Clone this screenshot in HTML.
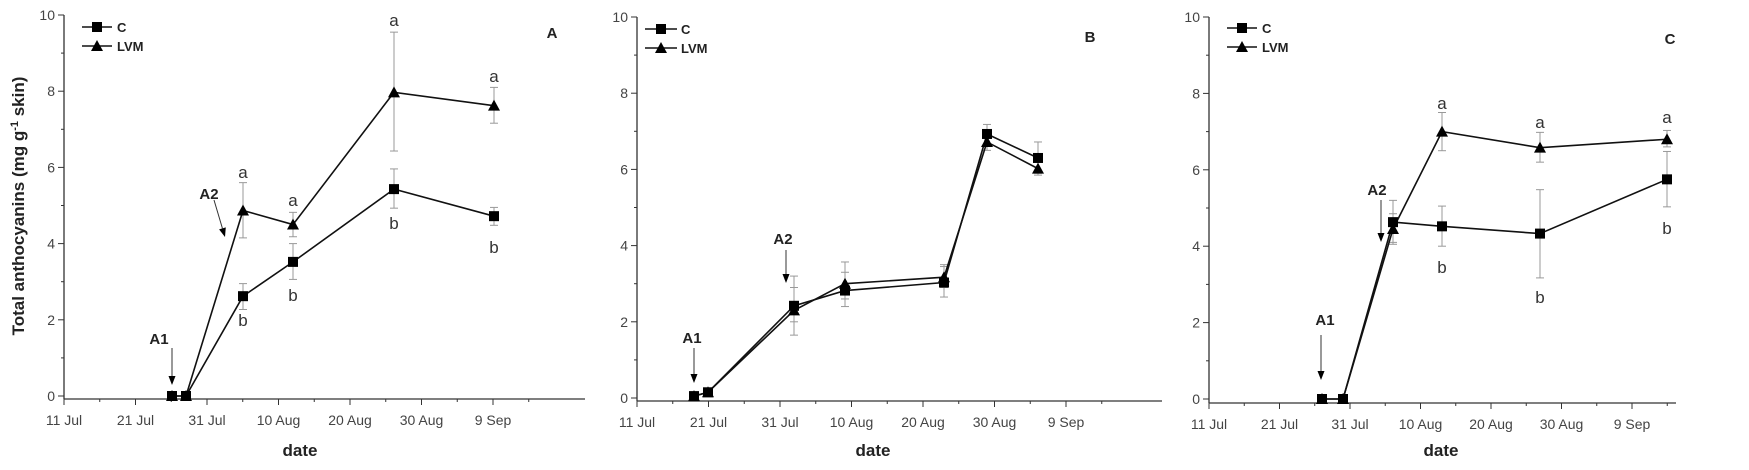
<!DOCTYPE html><html><head><style>body{margin:0;background:#fff}svg{display:block}text{font-family:"Liberation Sans",Arial,sans-serif}</style></head><body>
<svg id="s" width="1749" height="470" xmlns="http://www.w3.org/2000/svg"></svg>
<script>
const s=document.getElementById('s');let h='';
const P=[
{ax:64,y10:15,y0:396,xa:399,xend:585,t0:64,dt:7.15,lab:'A',lx:552,ly:38,leg:[82,112,97,27,46,117],
 C:[[172,0],[186,0],[243,2.62,2.27,2.95],[293,3.52,3.06,4.0],[394,5.43,4.93,5.96],[494,4.72,4.48,4.95]],
 L:[[172,0],[186,0],[243,4.87,4.15,5.6],[293,4.5,4.18,4.82],[394,7.97,6.43,9.55],[494,7.62,7.16,8.1]],
 let:[[243,178,'a'],[243,326,'b'],[293,206,'a'],[293,301,'b'],[394,26,'a'],[394,229,'b'],[494,82,'a'],[494,253,'b']],
 a1:[159,344,172,348,385],a2:[209,199,214,200,225,237],dx:300},
{ax:637,y10:17,y0:398,xa:401,xend:1162,t0:637,dt:7.15,lab:'B',lx:1090,ly:42,leg:[645,677,661,29,48,681],
 C:[[694,0.05],[708,0.15],[794,2.42,1.65,3.2],[845,2.82,2.4,3.3],[944,3.03,2.65,3.45],[987,6.93,6.6,7.18],[1038,6.3,5.9,6.72]],
 L:[[694,0.05],[708,0.15],[794,2.3,2.0,2.9],[845,3.0,2.6,3.57],[944,3.17,2.9,3.5],[987,6.72,6.5,7.0],[1038,6.02,5.85,6.2]],
 let:[],a1:[692,343,694,348,383],a2:[783,244,786,250,786,283],dx:873},
{ax:1209,y10:17,y0:399,xa:403,xend:1676,t0:1209,dt:7.05,lab:'C',lx:1670,ly:44,leg:[1227,1257,1242,28,47,1262],
 C:[[1322,0],[1343,0],[1393,4.63,4.1,5.2],[1442,4.52,4.0,5.05],[1540,4.33,3.17,5.48],[1667,5.75,5.03,6.48]],
 L:[[1322,0],[1343,0],[1393,4.45,4.05,4.85],[1442,7.0,6.5,7.5],[1540,6.58,6.2,6.98],[1667,6.8,6.6,7.03]],
 let:[[1442,109,'a'],[1442,273,'b'],[1540,128,'a'],[1540,303,'b'],[1667,123,'a'],[1667,234,'b']],
 a1:[1325,325,1321,335,380],a2:[1377,195,1381,200,1381,242],dx:1441}];
const months=['11 Jul','21 Jul','31 Jul','10 Aug','20 Aug','30 Aug','9 Sep'];
function tri(x,y){return `<path d="M${x} ${y-6}L${x+6} ${y+5}L${x-6} ${y+5}Z" fill="#000"/>`}
function sq(x,y){return `<rect x="${x-5}" y="${y-5}" width="10" height="10" fill="#000"/>`}
function arrow(x1,y1,x2,y2){const a=Math.atan2(y2-y1,x2-x1),l=9,w=3.5;const bx=x2-l*Math.cos(a),by=y2-l*Math.sin(a);
 return `<line x1="${x1}" y1="${y1}" x2="${bx}" y2="${by}" stroke="#333" stroke-width="1"/><path d="M${x2} ${y2}L${bx-w*Math.sin(a)} ${by+w*Math.cos(a)}L${bx+w*Math.sin(a)} ${by-w*Math.cos(a)}Z" fill="#000"/>`}
for(const p of P){
 const Y=v=>p.y0-(p.y0-p.y10)*v/10;
 h+=`<line x1="${p.ax}" y1="${p.y10}" x2="${p.ax}" y2="${p.xa}" stroke="#333" stroke-width="1.3"/>`;
 h+=`<line x1="${p.ax}" y1="${p.xa}" x2="${p.xend}" y2="${p.xa}" stroke="#333" stroke-width="1.3"/>`;
 for(let v=0;v<=10;v++){const y=Y(v);h+=`<line x1="${p.ax-(v%2?3:6)}" y1="${y}" x2="${p.ax}" y2="${y}" stroke="#333"/>`;
  if(v%2==0)h+=`<text x="${p.ax-9}" y="${y+5}" font-size="14" fill="#444" text-anchor="end">${v}</text>`;}
 for(let i=0;i<14;i++){const x=p.t0+i*p.dt*5;if(x>p.xend)break;h+=`<line x1="${x}" y1="${p.xa}" x2="${x}" y2="${p.xa+(i%2?3:6)}" stroke="#333"/>`;
  if(i%2==0)h+=`<text x="${x}" y="${p.xa+26}" font-size="14" fill="#444" text-anchor="middle">${months[i/2]}</text>`;}
 h+=`<text x="${p.dx}" y="456" font-size="17" font-weight="bold" text-anchor="middle" fill="#222">date</text>`;
 h+=`<text x="${p.lx}" y="${p.ly}" font-size="15" font-weight="bold" text-anchor="middle" fill="#222">${p.lab}</text>`;
 for(const ser of [p.C,p.L])for(const d of ser)if(d.length>2){const x=d[0];h+=`<g stroke="#999" stroke-width="1"><line x1="${x}" y1="${Y(d[2])}" x2="${x}" y2="${Y(d[3])}"/><line x1="${x-4}" y1="${Y(d[2])}" x2="${x+4}" y2="${Y(d[2])}"/><line x1="${x-4}" y1="${Y(d[3])}" x2="${x+4}" y2="${Y(d[3])}"/></g>`;}
 for(const ser of [p.C,p.L])h+=`<polyline fill="none" stroke="#111" stroke-width="1.6" points="${ser.map(d=>d[0]+','+Y(d[1])).join(' ')}"/>`;
 for(const d of p.C)h+=sq(d[0],Y(d[1]));for(const d of p.L)h+=tri(d[0],Y(d[1]));
 for(const l of p.let)h+=`<text x="${l[0]}" y="${l[1]}" font-size="17" fill="#333" text-anchor="middle">${l[2]}</text>`;
 const g=p.leg;h+=`<line x1="${g[0]}" y1="${g[3]}" x2="${g[1]}" y2="${g[3]}" stroke="#111" stroke-width="1.6"/>${sq(g[2],g[3])}<line x1="${g[0]}" y1="${g[4]}" x2="${g[1]}" y2="${g[4]}" stroke="#111" stroke-width="1.6"/>${tri(g[2],g[4])}`;
 h+=`<text x="${g[5]}" y="${g[3]+5}" font-size="13" font-weight="bold" fill="#222">C</text><text x="${g[5]}" y="${g[4]+5}" font-size="13" font-weight="bold" fill="#222">LVM</text>`;
 const a=p.a1;h+=`<text x="${a[0]}" y="${a[1]}" font-size="15" font-weight="bold" text-anchor="middle" fill="#222">A1</text>`+arrow(a[2],a[3],a[2],a[4]);
 const b=p.a2;h+=`<text x="${b[0]}" y="${b[1]}" font-size="15" font-weight="bold" text-anchor="middle" fill="#222">A2</text>`+arrow(b[2],b[3],b[4],b[5]);
}
h+=`<text transform="translate(24,206) rotate(-90)" font-size="17" font-weight="bold" text-anchor="middle" fill="#222">Total anthocyanins (mg g<tspan dy="-6" font-size="11">-1</tspan><tspan dy="6"> skin)</tspan></text>`;
s.innerHTML=h;
</script></body></html>
